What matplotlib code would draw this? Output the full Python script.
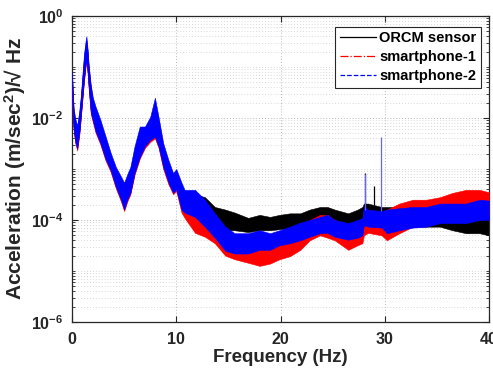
import matplotlib
matplotlib.use('Agg')
import matplotlib.pyplot as plt
from matplotlib.lines import Line2D
from matplotlib.ticker import FixedLocator, FixedFormatter, NullFormatter, LogLocator

plt.rcParams['font.family'] = ['Liberation Sans', 'DejaVu Sans']
plt.rcParams['mathtext.fontset'] = 'custom'
plt.rcParams['mathtext.rm'] = 'Liberation Sans:bold'
plt.rcParams['mathtext.bf'] = 'Liberation Sans:bold'
plt.rcParams['mathtext.it'] = 'Liberation Sans:bold'

# ---- data ----
freq_hz = [0.0, 0.15, 0.3, 0.5, 0.7, 0.85, 1.0, 1.15, 1.3, 1.38, 1.5, 1.6, 1.8, 2.0, 2.25,
           2.7, 3.2, 3.7, 4.2, 4.7, 5.0, 5.3, 5.6, 6.0, 6.5, 7.0, 7.5, 7.95, 8.3, 8.75,
           9.25, 9.7, 10.0, 10.5, 10.8, 11.8, 12.75, 13.7, 14.7, 15.6, 16.9, 18.0, 19.0, 19.9, 20.9,
           21.9, 22.8, 23.8, 24.5, 25.2, 26.5, 27.4, 27.85, 28.0, 28.4, 29.7, 30.2, 31.4, 32.7, 34.0,
           35.3, 36.5, 37.8, 39.1, 40.0]

# ORCM sensor (black) band: lower / upper envelope
orcm_low = [3.0e-2, 6.8e-3, 3.8e-3, 2.7e-3, 5.4e-3, 1.2e-2, 2.7e-2, 6.0e-2, 1.2e-1, 1.4e-1, 8.5e-2, 4.3e-2, 1.4e-2, 9.5e-3, 6.0e-3,
            3.5e-3, 1.7e-3, 1.0e-3, 4.8e-4, 2.7e-4, 1.8e-4, 2.7e-4, 3.6e-4, 8.9e-4, 1.8e-3, 3.0e-3, 4.0e-3, 4.6e-3, 3.0e-3, 1.2e-3,
            5.8e-4, 3.6e-4, 4.5e-4, 2.0e-4, 1.8e-4, 1.6e-4, 1.6e-4, 8.7e-5, 6.3e-5, 6.3e-5, 5.8e-5, 6.3e-5, 6.3e-5, 6.6e-5, 6.9e-5,
            7.9e-5, 8.7e-5, 1.0e-4, 1.0e-4, 8.7e-5, 7.4e-5, 8.7e-5, 1.0e-4, 1.1e-4, 1.15e-4, 1.0e-4, 8.7e-5, 1.0e-4, 7.4e-5, 7.4e-5,
            7.4e-5, 6.3e-5, 5.5e-5, 5.5e-5, 5.0e-5]
orcm_high = [6.8e-2, 1.4e-2, 8.6e-3, 6.1e-3, 1.2e-2, 2.4e-2, 6.1e-2, 1.5e-1, 2.7e-1, 3.3e-1, 1.9e-1, 9.5e-2, 3.9e-2, 2.1e-2, 1.45e-2,
             8.1e-3, 3.9e-3, 1.8e-3, 9.5e-4, 6.1e-4, 4.6e-4, 6.8e-4, 9.5e-4, 2.4e-3, 5.8e-3, 5.8e-3, 8.9e-3, 1.9e-2, 8.9e-3, 2.7e-3,
             1.3e-3, 7.1e-4, 9.0e-4, 4.0e-4, 3.6e-4, 3.2e-4, 2.8e-4, 1.8e-4, 1.6e-4, 1.4e-4, 1.1e-4, 1.26e-4, 1.15e-4, 1.26e-4, 1.35e-4,
             1.35e-4, 1.6e-4, 1.8e-4, 1.8e-4, 1.6e-4, 1.35e-4, 1.6e-4, 1.8e-4, 2.1e-4, 2.1e-4, 1.8e-4, 1.8e-4, 1.8e-4, 1.8e-4, 1.6e-4,
             1.6e-4, 1.35e-4, 1.15e-4, 1.15e-4, 1.26e-4]

# smartphone-1 (red) band
phone1_low = [2.6e-2, 5.9e-3, 3.3e-3, 2.3e-3, 4.7e-3, 1.0e-2, 2.3e-2, 5.2e-2, 1.0e-1, 1.2e-1, 7.3e-2, 3.7e-2, 1.2e-2, 8.3e-3, 5.2e-3,
              3.1e-3, 1.5e-3, 8.8e-4, 4.2e-4, 2.3e-4, 1.5e-4, 2.3e-4, 3.2e-4, 7.7e-4, 1.6e-3, 2.6e-3, 3.4e-3, 4.0e-3, 2.6e-3, 1.0e-3,
              5.0e-4, 3.2e-4, 3.7e-4, 1.4e-4, 1.1e-4, 5.6e-5, 4.7e-5, 3.5e-5, 2.0e-5, 1.7e-5, 1.45e-5, 1.26e-5, 1.4e-5, 1.7e-5, 1.95e-5,
              2.6e-5, 4.0e-5, 5.0e-5, 4.5e-5, 4.0e-5, 2.6e-5, 3.2e-5, 3.5e-5, 5.0e-5, 5.6e-5, 5.0e-5, 4.0e-5, 5.5e-5, 7.4e-5, 8.7e-5,
              1.0e-4, 1.0e-4, 1.15e-4, 1.35e-4, 1.26e-4]
phone1_high = [6.3e-2, 1.3e-2, 8.0e-3, 5.7e-3, 1.1e-2, 2.2e-2, 5.7e-2, 1.4e-1, 2.6e-1, 3.0e-1, 1.8e-1, 8.8e-2, 3.6e-2, 2.0e-2, 1.4e-2,
               7.6e-3, 3.6e-3, 1.7e-3, 8.8e-4, 5.7e-4, 4.3e-4, 6.3e-4, 8.8e-4, 2.2e-3, 5.4e-3, 5.4e-3, 8.4e-3, 1.8e-2, 8.4e-3, 2.6e-3,
               1.2e-3, 6.6e-4, 8.9e-4, 4.5e-4, 3.2e-4, 1.8e-4, 1.15e-4, 7.4e-5, 5.6e-5, 4.7e-5, 4.1e-5, 4.5e-5, 5.0e-5, 5.0e-5, 6.3e-5,
               7.1e-5, 1.0e-4, 1.26e-4, 1.26e-4, 1.0e-4, 7.9e-5, 8.9e-5, 1.0e-4, 1.6e-4, 1.6e-4, 1.4e-4, 1.6e-4, 2.1e-4, 2.5e-4, 2.5e-4,
               2.8e-4, 3.4e-4, 3.9e-4, 3.9e-4, 3.5e-4]

# smartphone-2 (blue) band
phone2_low = [2.8e-2, 6.3e-3, 3.5e-3, 2.5e-3, 5.0e-3, 1.1e-2, 2.5e-2, 5.6e-2, 1.1e-1, 1.3e-1, 7.9e-2, 4.0e-2, 1.3e-2, 8.9e-3, 5.6e-3,
              3.3e-3, 1.6e-3, 9.5e-4, 4.5e-4, 2.5e-4, 1.6e-4, 2.5e-4, 3.4e-4, 8.3e-4, 1.7e-3, 2.8e-3, 3.7e-3, 4.3e-3, 2.8e-3, 1.1e-3,
              5.4e-4, 3.4e-4, 4.0e-4, 1.6e-4, 1.4e-4, 1.15e-4, 7.4e-5, 4.5e-5, 2.5e-5, 2.2e-5, 2.2e-5, 2.6e-5, 2.6e-5, 3.2e-5, 3.5e-5,
              4.0e-5, 4.7e-5, 5.5e-5, 5.6e-5, 4.7e-5, 4.1e-5, 4.5e-5, 5.0e-5, 7.9e-5, 7.4e-5, 7.1e-5, 5.5e-5, 6.3e-5, 7.1e-5, 7.4e-5,
              8.7e-5, 8.7e-5, 8.7e-5, 1.0e-4, 1.0e-4]
phone2_high = [7.9e-2, 1.6e-2, 1.0e-2, 7.1e-3, 1.4e-2, 2.8e-2, 7.1e-2, 1.8e-1, 3.2e-1, 4.0e-1, 2.2e-1, 1.1e-1, 4.5e-2, 2.5e-2, 1.7e-2,
               9.5e-3, 4.5e-3, 2.1e-3, 1.1e-3, 7.1e-4, 5.4e-4, 7.9e-4, 1.1e-3, 2.8e-3, 6.8e-3, 6.8e-3, 1.05e-2, 2.5e-2, 1.05e-2, 3.2e-3,
               1.5e-3, 8.3e-4, 1.0e-3, 5.4e-4, 3.9e-4, 3.9e-4, 2.5e-4, 1.35e-4, 7.4e-5, 5.5e-5, 5.5e-5, 6.3e-5, 5.5e-5, 6.3e-5, 7.4e-5,
               8.9e-5, 1.0e-4, 1.15e-4, 1.26e-4, 1.0e-4, 8.7e-5, 1.0e-4, 1.1e-4, 1.8e-4, 1.6e-4, 1.5e-4, 1.6e-4, 1.7e-4, 1.8e-4, 1.8e-4,
               2.1e-4, 2.1e-4, 2.1e-4, 2.5e-4, 2.4e-4]

# isolated narrow spikes: frequency, base, top, series index
spike_freq_hz = [28.1, 28.95, 28.1, 29.6]
spike_base = [2.0e-4, 2.0e-4, 1.6e-4, 1.5e-4]
spike_top = [8.3e-4, 4.7e-4, 8.0e-4, 4.3e-3]
spike_series = [0, 0, 2, 2]

series_names = ['ORCM sensor', 'smartphone-1', 'smartphone-2']
x_ticks = [0, 10, 20, 30, 40]
y_ticks = [1e-6, 1e-4, 1e-2, 1e0]
y_tick_labels = [r'$\mathbf{10^{-6}}$', r'$\mathbf{10^{-4}}$', r'$\mathbf{10^{-2}}$', r'$\mathbf{10^{0}}$']
x_label = 'Frequency (Hz)'
y_label = r'Acceleration (m/sec$^{\mathbf{2}}$)/√ Hz'

# ---- styles ----
colors = ['#000000', '#ff0000', '#0000ff']
linestyles = ['-', '-.', '--']
spike_colors = ['#000000', '#ff0000', '#6666ff']
axis_color = '#262626'

fig = plt.figure(figsize=(4.93, 3.76), dpi=100)
ax = fig.add_axes([72 / 493, 54 / 376, 417 / 493, 306 / 376])
ax.set_yscale('log')

bands = [(orcm_low, orcm_high), (phone1_low, phone1_high), (phone2_low, phone2_high)]
for i, (lo, hi) in enumerate(bands):
    ax.fill_between(freq_hz, lo, hi, color=colors[i], linewidth=0.4, edgecolor=colors[i], zorder=2 + i)

for f, b, t, s in zip(spike_freq_hz, spike_base, spike_top, spike_series):
    ax.vlines(f, b, t, colors=spike_colors[s], linewidth=0.9, zorder=2 + s)

ax.set_xlim(0, 40)
ax.set_ylim(1e-6, 1e0)
ax.xaxis.set_major_locator(FixedLocator(x_ticks))
ax.set_xticklabels([str(v) for v in x_ticks])
ax.yaxis.set_major_locator(FixedLocator(y_ticks))
ax.yaxis.set_major_formatter(FixedFormatter(y_tick_labels))
ax.yaxis.set_minor_locator(LogLocator(base=10, subs=(1, 2, 3, 4, 5, 6, 7, 8, 9), numticks=50))
ax.yaxis.set_minor_formatter(NullFormatter())

ax.grid(which='major', axis='both', linestyle=(0, (1, 2)), color='#b8b8b8', linewidth=0.7, zorder=0)
ax.grid(which='minor', axis='y', linestyle=(0, (1, 2.5)), color='#cccccc', linewidth=0.6, zorder=0)
ax.set_axisbelow(True)

ax.tick_params(which='both', direction='in', top=True, right=True, colors=axis_color)
ax.tick_params(which='major', length=4, width=0.8, labelsize=11.5)
ax.tick_params(axis='x', which='major', pad=7)
ax.tick_params(axis='y', which='major', pad=6)
ax.tick_params(which='minor', length=2, width=0.6)
for lab in ax.get_xticklabels():
    lab.set_fontweight('bold')
for sp in ax.spines.values():
    sp.set_color(axis_color)
    sp.set_linewidth(0.9)

ax.set_xlabel(x_label, fontsize=13.5, fontweight='bold', color=axis_color, labelpad=2)
ax.set_ylabel(y_label, fontsize=15, fontweight='bold', color=axis_color, labelpad=2)

handles = [Line2D([], [], color=colors[i], linestyle=linestyles[i], linewidth=0.9) for i in range(3)]
leg = ax.legend(handles, series_names, loc='upper right', bbox_to_anchor=(0.98, 0.965),
                prop={'weight': 'bold', 'size': 10.5}, frameon=True, fancybox=False,
                edgecolor=axis_color, framealpha=1, handlelength=2.5, handletextpad=0.2,
                borderpad=0.3, labelspacing=0.35, borderaxespad=0.0)
leg.get_frame().set_linewidth(0.8)
leg.set_zorder(10)

fig.savefig('out.png', dpi=100)
